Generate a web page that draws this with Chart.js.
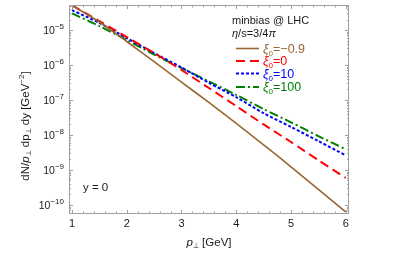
<!DOCTYPE html>
<html>
<head>
<meta charset="utf-8">
<script src="https://cdn.jsdelivr.net/npm/chart.js@4.4.1/dist/chart.umd.min.js"></script>
<style>
  html, body { margin: 0; padding: 0; background: #fff; }
  #caja { width: 399px; height: 264px; }
</style>
</head>
<body>
<div id="caja"><canvas id="miGrafico"></canvas></div>
<script>
// ================== DATOS ==================

const pt = [1, 1.5, 2, 2.5, 3, 3.5, 4, 4.5, 5, 5.5, 6]; // GeV

const xiMenos09 = [5.1e-5, 1.7e-5, 4.7e-6, 1.25e-6, 3.25e-7, 8.5e-8, 2.15e-8, 5.25e-9, 1.23e-9, 2.8e-10, 6.3e-11];
const xiCero    = [5.1e-5, 1.8e-5, 6.3e-6, 2.2e-6, 7.2e-7, 2.2e-7, 6.7e-8, 2.0e-8, 6.3e-9, 1.9e-9, 5.9e-10];
const xiDiez    = [3.7e-5, 1.6e-5, 5.9e-6, 2.2e-6, 8.5e-7, 3.1e-7, 1.2e-7, 4.2e-8, 1.7e-8, 6.7e-9, 2.6e-9];
const xiCien    = [3.0e-5, 1.3e-5, 5.2e-6, 2.0e-6, 8.2e-7, 3.4e-7, 1.4e-7, 5.5e-8, 2.3e-8, 9.3e-9, 3.9e-9];

const nombres = ['\u22120.9', '0', '10', '100'];
const xTicks = [1, 2, 3, 4, 5, 6];
const yDecadas = [-10, -9, -8, -7, -6, -5];

const FUENTE = '"Liberation Sans", Arial, sans-serif';

function puntos(ys) {
    return pt.map((x, i) => ({ x: x, y: ys[i] }));
}

// ================== TEXTO CON SUB/SUPER ==================

function trozos(ctx, lista, x, y, align) {
    let ancho = 0;
    lista.forEach(t => { ctx.font = t[1]; ancho += ctx.measureText(t[0]).width; });
    let cx = x;
    if (align === 'right') cx = x - ancho;
    if (align === 'center') cx = x - ancho / 2;
    lista.forEach(t => {
        ctx.font = t[1];
        ctx.fillText(t[0], cx, y + (t[2] || 0));
        cx += ctx.measureText(t[0]).width;
    });
}

// ================== MARCO, TICKS Y TEXTOS ==================

const marco = {
    id: 'marco',
    afterDatasetsDraw(chart) {
        const { ctx, chartArea: a, scales: { x, y } } = chart;
        ctx.save();
        ctx.strokeStyle = '#a0a0a0';
        ctx.lineWidth = 1;
        ctx.strokeRect(a.left + 0.5, a.top + 0.5, a.right - a.left - 1, a.bottom - a.top - 1);

        ctx.beginPath();
        // ticks x (dentro, abajo y arriba)
        for (let k = 5; k <= 60; k++) {
            const v = k / 10;
            if (k % 2 !== 0 && k % 10 !== 0) continue;
            const px = Math.round(x.getPixelForValue(v)) + 0.5;
            if (px < a.left || px > a.right) continue;
            const largo = (k % 10 === 0) ? 4 : 2.5;
            ctx.moveTo(px, a.bottom); ctx.lineTo(px, a.bottom - largo);
            ctx.moveTo(px, a.top); ctx.lineTo(px, a.top + largo);
        }
        // ticks y logaritmicos (izquierda y derecha)
        for (let d = -11; d <= -4; d++) {
            for (let m = 1; m <= 9; m++) {
                const v = m * Math.pow(10, d);
                if (v < y.min || v > y.max) continue;
                const py = Math.round(y.getPixelForValue(v)) + 0.5;
                const largo = (m === 1) ? 4 : 2;
                ctx.moveTo(a.left, py); ctx.lineTo(a.left + largo, py);
                ctx.moveTo(a.right, py); ctx.lineTo(a.right - largo, py);
            }
        }
        ctx.stroke();

        // etiquetas
        ctx.fillStyle = '#1a1a1a';
        ctx.textBaseline = 'alphabetic';
        xTicks.forEach(v => {
            trozos(ctx, [[String(v), '11px ' + FUENTE]], x.getPixelForValue(v), a.bottom + 13, 'center');
        });
        yDecadas.forEach(d => {
            const py = y.getPixelForValue(Math.pow(10, d));
            trozos(ctx, [['10', '10.5px ' + FUENTE], ['\u2212' + Math.abs(d), '8px ' + FUENTE, -5]], a.left - 5, py + 4, 'right');
        });

        // titulo eje x
        trozos(ctx, [
            ['p', 'italic 11.5px ' + FUENTE],
            ['\u22a5', '7px ' + FUENTE, 2],
            [' [GeV]', '11.5px ' + FUENTE]
        ], (a.left + a.right) / 2, 246, 'center');

        // titulo eje y
        ctx.save();
        ctx.translate(29, 126);
        ctx.rotate(-Math.PI / 2);
        trozos(ctx, [
            ['dN/', '11.5px ' + FUENTE],
            ['p', 'italic 11.5px ' + FUENTE],
            ['\u22a5', '7px ' + FUENTE, 2],
            [' dp', '11.5px ' + FUENTE],
            ['\u22a5', '7px ' + FUENTE, 2],
            [' dy [GeV', '11.5px ' + FUENTE],
            ['\u22122', '8px ' + FUENTE, -5],
            [']', '11.5px ' + FUENTE]
        ], 0, 0, 'center');
        ctx.restore();

        // y = 0
        trozos(ctx, [['y = 0', '11.5px ' + FUENTE]], 83, 191, 'left');

        // leyenda
        trozos(ctx, [['minbias @ LHC', '11px ' + FUENTE]], 232, 24, 'left');
        trozos(ctx, [
            ['\u03b7', 'italic 11px ' + FUENTE],
            ['/s=3/4', '11px ' + FUENTE],
            ['\u03c0', 'italic 11px ' + FUENTE]
        ], 232, 37, 'left');

        const filas = [48.5, 61, 73.5, 87];
        chart.data.datasets.forEach((ds, i) => {
            const fy = filas[i];
            ctx.save();
            ctx.strokeStyle = ds.borderColor;
            ctx.lineWidth = ds.borderWidth;
            ctx.setLineDash(ds.borderDash || []);
            ctx.beginPath();
            ctx.moveTo(236, fy); ctx.lineTo(259, fy);
            ctx.stroke();
            ctx.restore();
            ctx.fillStyle = ds.borderColor;
            trozos(ctx, [
                ['\u03be', 'italic 12.5px ' + FUENTE],
                ['0', '8px ' + FUENTE, 3],
                ['=' + nombres[i], '12.5px ' + FUENTE]
            ], 263, fy + 4, 'left');
        });
        ctx.restore();
    }
};

// ================== GRÁFICO ==================

const ctx = document.getElementById('miGrafico');

const grafico = new Chart(ctx, {
    type: 'line',
    data: {
        datasets: [{
            data: puntos(xiMenos09),
            borderColor: '#996633',
            borderWidth: 1.6,
            borderDash: []
        }, {
            data: puntos(xiCero),
            borderColor: '#ff0000',
            borderWidth: 2,
            borderDash: [9, 5]
        }, {
            data: puntos(xiDiez),
            borderColor: '#0000ff',
            borderWidth: 2,
            borderDash: [3, 2]
        }, {
            data: puntos(xiCien),
            borderColor: '#008000',
            borderWidth: 2,
            borderDash: [9, 3, 2, 3]
        }]
    },
    options: {
        responsive: true,
        maintainAspectRatio: false,
        animation: false,
        layout: {
            padding: { left: 69, right: 50, top: 5, bottom: 50 }
        },
        elements: {
            point: { radius: 0 },
            line: { tension: 0.25, fill: false }
        },
        plugins: {
            legend: { display: false },
            tooltip: { enabled: false }
        },
        scales: {
            x: {
                type: 'linear',
                display: false,
                min: 0.945,
                max: 6.06
            },
            y: {
                type: 'logarithmic',
                display: false,
                min: 5.5e-11,
                max: 5.2e-5
            }
        }
    },
    plugins: [marco]
});
</script>
</body>
</html>
